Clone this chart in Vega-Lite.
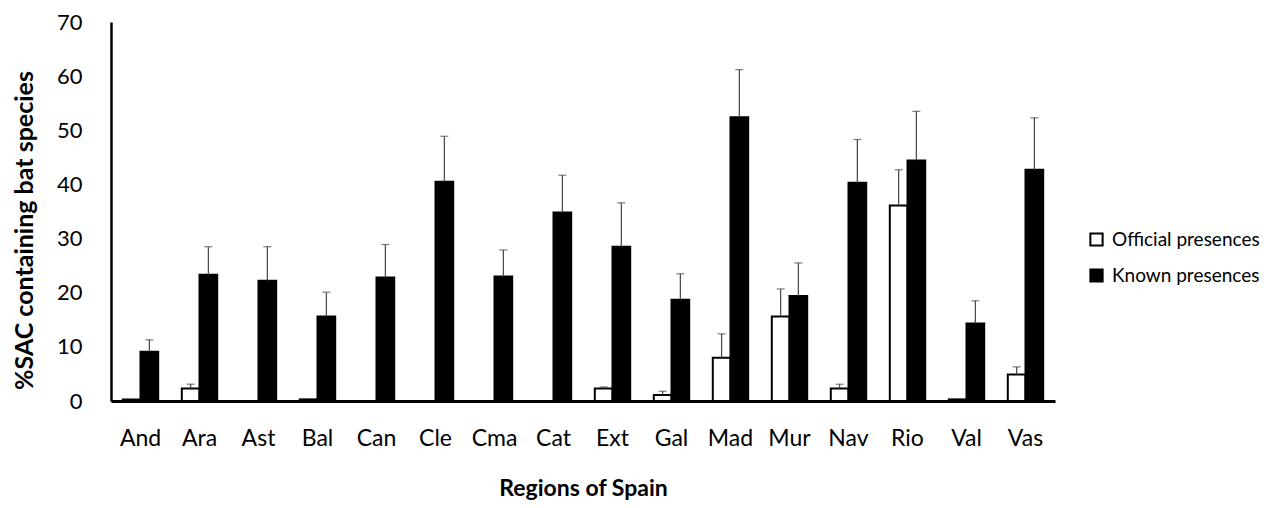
{
  "$schema": "https://vega.github.io/schema/vega-lite/v6.json",
  "autosize": "none",
  "width": 944,
  "height": 379,
  "padding": {"left": 111, "top": 22, "right": 217, "bottom": 107},
  "background": "white",
  "config": {
    "font": "Lato",
    "view": {"stroke": null},
    "axis": {"grid": false, "labelFont": "Lato", "titleFont": "Lato", "labelColor": "black", "titleColor": "black"}
  },
  "data": {
    "values": [
      {"region": "And", "series": "Official presences", "value": 0.3, "upper": null},
      {"region": "And", "series": "Known presences", "value": 9.1, "upper": 11.3},
      {"region": "Ara", "series": "Official presences", "value": 2.3, "upper": 3.1},
      {"region": "Ara", "series": "Known presences", "value": 23.3, "upper": 28.5},
      {"region": "Ast", "series": "Official presences", "value": 0, "upper": null},
      {"region": "Ast", "series": "Known presences", "value": 22.2, "upper": 28.5},
      {"region": "Bal", "series": "Official presences", "value": 0.3, "upper": null},
      {"region": "Bal", "series": "Known presences", "value": 15.6, "upper": 20.1},
      {"region": "Can", "series": "Official presences", "value": 0, "upper": null},
      {"region": "Can", "series": "Known presences", "value": 22.8, "upper": 28.9},
      {"region": "Cle", "series": "Official presences", "value": 0, "upper": null},
      {"region": "Cle", "series": "Known presences", "value": 40.5, "upper": 48.9},
      {"region": "Cma", "series": "Official presences", "value": 0, "upper": null},
      {"region": "Cma", "series": "Known presences", "value": 23.0, "upper": 27.9},
      {"region": "Cat", "series": "Official presences", "value": 0, "upper": null},
      {"region": "Cat", "series": "Known presences", "value": 34.8, "upper": 41.7},
      {"region": "Ext", "series": "Official presences", "value": 2.3, "upper": 2.6},
      {"region": "Ext", "series": "Known presences", "value": 28.5, "upper": 36.6},
      {"region": "Gal", "series": "Official presences", "value": 1.1, "upper": 1.8},
      {"region": "Gal", "series": "Known presences", "value": 18.7, "upper": 23.5},
      {"region": "Mad", "series": "Official presences", "value": 8.0, "upper": 12.4},
      {"region": "Mad", "series": "Known presences", "value": 52.4, "upper": 61.2},
      {"region": "Mur", "series": "Official presences", "value": 15.6, "upper": 20.7},
      {"region": "Mur", "series": "Known presences", "value": 19.4, "upper": 25.5},
      {"region": "Nav", "series": "Official presences", "value": 2.3, "upper": 3.1},
      {"region": "Nav", "series": "Known presences", "value": 40.3, "upper": 48.3},
      {"region": "Rio", "series": "Official presences", "value": 36.1, "upper": 42.7},
      {"region": "Rio", "series": "Known presences", "value": 44.4, "upper": 53.5},
      {"region": "Val", "series": "Official presences", "value": 0.3, "upper": null},
      {"region": "Val", "series": "Known presences", "value": 14.3, "upper": 18.5},
      {"region": "Vas", "series": "Official presences", "value": 4.9, "upper": 6.3},
      {"region": "Vas", "series": "Known presences", "value": 42.7, "upper": 52.3}
    ]
  },
  "encoding": {
    "x": {
      "field": "region", "type": "nominal", "sort": null,
      "scale": {"paddingInner": 0.4, "paddingOuter": 0.2},
      "axis": {
        "title": "Regions of Spain", "labelAngle": 0, "ticks": false, "tickSize": 0,
        "labelPadding": 26, "labelFontSize": 23, "domainColor": "black", "domainWidth": 3,
        "titleFontSize": 23, "titleFontWeight": "bold", "titleY": 87, "titleBaseline": "middle"
      }
    },
    "xOffset": {"field": "series", "type": "nominal", "sort": ["Official presences", "Known presences"], "scale": {"paddingInner": 0, "paddingOuter": 0}}
  },
  "layer": [
    {
      "mark": {"type": "bar", "stroke": "black", "strokeWidth": 2, "strokeJoin": "miter"},
      "encoding": {
        "y": {
          "field": "value", "type": "quantitative",
          "scale": {"domain": [0, 70]},
          "axis": {
            "title": "%SAC containing bat species", "values": [0, 10, 20, 30, 40, 50, 60, 70],
            "ticks": false, "tickSize": 0, "labelPadding": 29, "labelFontSize": 22,
            "domainColor": "black", "domainWidth": 2.5,
            "titleFontSize": 25, "titleFontWeight": "bold", "titleX": -87, "titleY": 208,
            "titleBaseline": "middle", "titleAngle": -90
          }
        },
        "fill": {
          "field": "series", "type": "nominal",
          "sort": ["Official presences", "Known presences"],
          "scale": {"domain": ["Official presences", "Known presences"], "range": ["white", "black"]},
          "legend": {
            "title": null, "orient": "none", "legendX": 976, "legendY": 208,
            "symbolType": "square", "symbolSize": 150, "symbolStrokeColor": "black", "symbolStrokeWidth": 2,
            "labelFontSize": 19, "labelColor": "black", "labelFont": "Lato", "rowPadding": 15, "labelOffset": 6
          }
        }
      }
    },
    {
      "transform": [{"filter": "datum.upper != null"}],
      "mark": {"type": "rule", "color": "#444", "strokeWidth": 1.2},
      "encoding": {
        "y": {"field": "value", "type": "quantitative"},
        "y2": {"field": "upper"}
      }
    },
    {
      "transform": [{"filter": "datum.upper != null"}],
      "mark": {"type": "tick", "color": "#444", "thickness": 1.2, "size": 8},
      "encoding": {
        "y": {"field": "upper", "type": "quantitative"}
      }
    }
  ]
}
